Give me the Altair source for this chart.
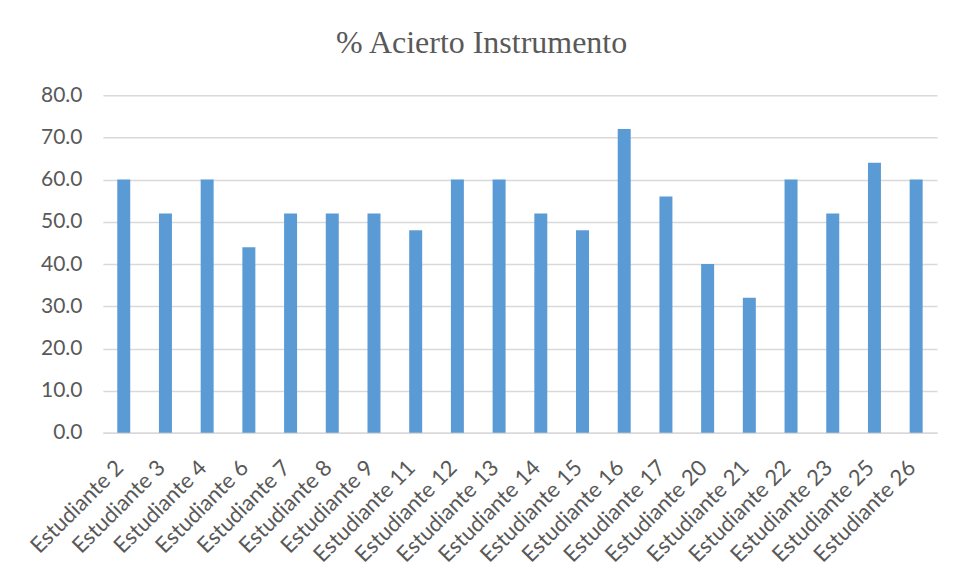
import altair as alt
import pandas as pd

estudiantes = ["Estudiante 2", "Estudiante 3", "Estudiante 4", "Estudiante 6", "Estudiante 7",
               "Estudiante 8", "Estudiante 9", "Estudiante 11", "Estudiante 12", "Estudiante 13",
               "Estudiante 14", "Estudiante 15", "Estudiante 16", "Estudiante 17", "Estudiante 20",
               "Estudiante 21", "Estudiante 22", "Estudiante 23", "Estudiante 25", "Estudiante 26"]
acierto = [60, 52, 60, 44, 52, 52, 52, 48, 60, 60, 52, 48, 72, 56, 40, 32, 60, 52, 64, 60]

df = pd.DataFrame({"estudiante": estudiantes, "acierto": acierto})

chart = alt.Chart(df).mark_bar(color="#5B9BD5", size=13).encode(
    x=alt.X("estudiante:N", sort=estudiantes, title=None,
            axis=alt.Axis(labelAngle=-45, labelAlign="right", labelBaseline="middle",
                          labelPadding=31, labelOffset=-4, ticks=False, domainColor="#D9D9D9",
                          domainWidth=1.5, labelFont="Lato", labelFontSize=22,
                          labelColor="#595959", labelOverlap=False, labelBound=False)),
    y=alt.Y("acierto:Q", title=None, scale=alt.Scale(domain=[0, 80]),
            axis=alt.Axis(values=list(range(0, 81, 10)), format=".1f", ticks=False, domain=False,
                          gridColor="#D9D9D9", gridWidth=1.5, labelPadding=21,
                          labelFont="Lato", labelFontSize=21, labelColor="#595959")),
).properties(
    width=835, height=338,
    title=alt.TitleParams("% Acierto Instrumento", font="Liberation Serif", fontSize=32,
                          fontWeight="normal", color="#595959", frame="bounds", anchor="middle",
                          offset=24),
    autosize=alt.AutoSizeParams(type="none"),
    padding={"left": 95, "top": 87, "right": 10, "bottom": 140},
).configure_view(stroke=None).configure_scale(bandPaddingInner=0.5)

chart.save("out.html", embed_options={"renderer": "svg", "actions": False})
